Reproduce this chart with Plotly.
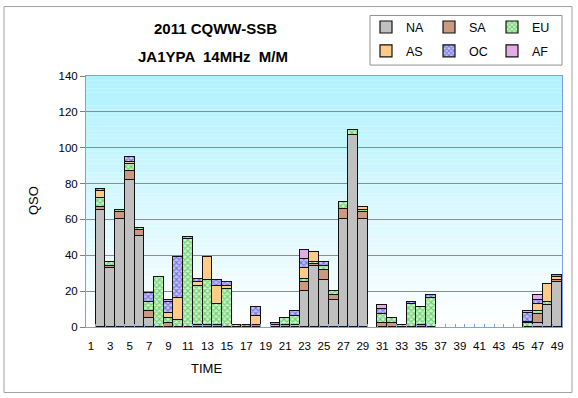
import plotly.graph_objects as go

categories = list(range(1, 50))
tick_labels = [str(v) for v in range(1, 50, 2)]

NA = [0, 65, 33, 60, 82, 51, 5, 0, 0, 0, 0, 0, 0, 0, 0, 0, 0, 0, 0, 1, 0, 1, 20, 34, 26, 15, 60, 107, 60, 0,
      0, 0, 0, 0, 0, 0, 0, 0, 0, 0, 0, 0, 0, 0, 0, 0, 2, 12, 25]
SA = [0, 2, 1, 4, 5, 3, 4, 0, 2, 0, 0, 1, 1, 1, 0, 0, 0, 1, 0, 1, 1, 0, 5, 1, 6, 3, 6, 0, 4, 0,
      2, 2, 0, 0, 1, 0, 0, 0, 0, 0, 0, 0, 0, 0, 0, 0, 5, 0, 1]
EU = [0, 5, 2, 1, 4, 1, 5, 28, 3, 4, 49, 22, 25, 12, 21, 1, 0, 0, 0, 0, 4, 5, 2, 1, 2, 2, 4, 3, 1, 0,
      5, 3, 1, 13, 10, 16, 0, 0, 0, 0, 0, 0, 0, 0, 0, 2, 2, 2, 0]
AS = [0, 4, 0, 0, 1, 0, 0, 0, 3, 12, 0, 2, 13, 10, 2, 0, 0, 5, 0, 0, 0, 0, 6, 6, 0, 0, 0, 0, 2, 0,
      0, 0, 0, 0, 0, 0, 0, 0, 0, 0, 0, 0, 0, 0, 0, 1, 4, 10, 2]
OC = [0, 1, 0, 0, 3, 0, 5, 0, 6, 23, 1, 2, 0, 3, 2, 0, 1, 5, 0, 0, 0, 3, 5, 0, 2, 0, 0, 0, 0, 0,
      3, 0, 0, 1, 0, 2, 0, 0, 0, 0, 0, 0, 0, 0, 0, 5, 2, 0, 1]
AF = [0, 0, 0, 0, 0, 0, 0, 0, 1, 0, 0, 0, 0, 0, 0, 0, 0, 0, 0, 0, 0, 0, 5, 0, 0, 0, 0, 0, 0, 0,
      2, 0, 0, 0, 0, 0, 0, 0, 0, 0, 0, 0, 0, 0, 0, 1, 3, 0, 0]

series = [
    ("NA", NA, "#C0C0C0", None, "legend"),
    ("SA", SA, "#CC9980", None, "legend"),
    ("EU", EU, "#A8E8A8", ("#C4F8C4", "#2E9E2E"), "legend"),
    ("AS", AS, "#FFCC88", None, "legend2"),
    ("OC", OC, "#8888EE", ("#C4C4FF", "#2A2AB8"), "legend2"),
    ("AF", AF, "#E6AAE6", None, "legend2"),
]

W, H = 578, 398
L, R, T, B = 86, 16, 74, 71
PW, PH = W - L - R, H - T - B


def px_x(x):
    return (x - L) / PW


def px_y(y):
    return (H - B - y) / PH


fig = go.Figure()
for name, vals, color, pat, leg in series:
    marker = dict(color=color, line=dict(color="#111111", width=1.2))
    if pat:
        marker["pattern"] = dict(shape="x", bgcolor=pat[0], fgcolor=pat[1], size=4, solidity=0.5)
    fig.add_trace(go.Bar(
        x=categories, y=[v if v else None for v in vals], name=name,
        marker=marker, legend=leg,
    ))

shapes = []
n = 60
for i in range(n):
    t = i / (n - 1)
    r = int(255 - (255 - 175) * t)
    g = int(255 - (255 - 242) * t)
    b = 255
    shapes.append(dict(type="rect", xref="paper", yref="paper", x0=0, x1=1,
                       y0=i / n, y1=(i + 1) / n, fillcolor=f"rgb({r},{g},{b})",
                       line=dict(width=0), layer="below"))
# outer chart border
shapes.append(dict(type="rect", xref="paper", yref="paper",
                   x0=px_x(4), x1=px_x(572), y0=px_y(393), y1=px_y(4),
                   line=dict(color="#A0A0A0", width=1), fillcolor="rgba(0,0,0,0)"))
# legend box
shapes.append(dict(type="rect", xref="paper", yref="paper",
                   x0=px_x(370), x1=px_x(562), y0=px_y(63), y1=px_y(13),
                   line=dict(color="#909090", width=1), fillcolor="white", layer="below"))

fig.update_layout(
    width=W, height=H,
    margin=dict(l=L, r=R, t=T, b=B),
    paper_bgcolor="white",
    plot_bgcolor="rgba(0,0,0,0)",
    barmode="stack", bargap=0,
    font=dict(family="Liberation Sans, Arial, sans-serif", size=11.5, color="#000000"),
    shapes=shapes,
    showlegend=True,
    legend=dict(orientation="h", x=px_x(366), y=px_y(25), xanchor="left", yanchor="middle",
                bgcolor="rgba(0,0,0,0)", font=dict(size=12.5), entrywidth=18, entrywidthmode="pixels",
                itemwidth=30, traceorder="normal"),
    legend2=dict(orientation="h", x=px_x(366), y=px_y(49), xanchor="left", yanchor="middle",
                 bgcolor="rgba(0,0,0,0)", font=dict(size=12.5), entrywidth=18, entrywidthmode="pixels",
                 itemwidth=30, traceorder="normal"),
    xaxis=dict(range=[0.5, 49.5], tickmode="array", tickvals=list(range(1, 50, 2)), ticktext=tick_labels,
               ticks="", showgrid=False, showline=True, linecolor="#7F9FDF", linewidth=1, mirror=True,
               ticklabelstandoff=8, zeroline=False,
               minor=dict(tickmode="array", tickvals=[c + 0.5 for c in categories], ticks="inside",
                          ticklen=3, tickcolor="#7F9FDF", showgrid=False)),
    yaxis=dict(range=[0, 140], tickmode="array", tickvals=list(range(0, 141, 20)),
               ticks="outside", ticklen=5, tickcolor="#808080", showgrid=True, gridcolor="#8C8C8C",
               gridwidth=1, showline=True, linecolor="#7F9FDF", linewidth=1, mirror=True, zeroline=False),
    annotations=[
        dict(text="<b>2011 CQWW-SSB</b>", xref="paper", yref="paper", x=px_x(215), y=px_y(26),
             xanchor="center", yanchor="middle", showarrow=False, font=dict(size=15)),
        dict(text="<b>JA1YPA  14MHz  M/M</b>", xref="paper", yref="paper", x=px_x(213), y=px_y(54),
             xanchor="center", yanchor="middle", showarrow=False, font=dict(size=15)),
        dict(text="QSO", xref="paper", yref="paper", x=px_x(33), y=px_y(200), textangle=-90,
             xanchor="center", yanchor="middle", showarrow=False, font=dict(size=13)),
        dict(text="TIME", xref="paper", yref="paper", x=px_x(206), y=px_y(369),
             xanchor="center", yanchor="middle", showarrow=False, font=dict(size=13)),
    ],
)

fig.write_html("out.html", config={"displayModeBar": False},
               post_script="document.body.style.margin='0';document.body.style.overflow='hidden';")
